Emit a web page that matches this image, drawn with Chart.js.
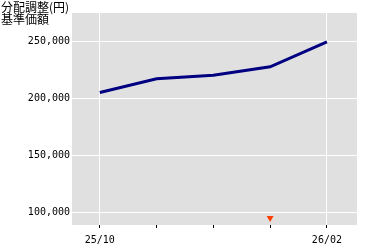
<!DOCTYPE html>
<html>
<head>
<meta charset="utf-8">
<script src="https://cdn.jsdelivr.net/npm/chart.js@4/dist/chart.umd.min.js"></script>
<style>
  html, body { margin: 0; padding: 0; background: #fff; }
  #wrap { width: 380px; height: 250px; position: relative; }
</style>
</head>
<body>
<div id="wrap"><canvas id="myChart" width="380" height="250"></canvas></div>
<script>
// datos del grafico
const meses = ['25/10', '25/11', '25/12', '26/01', '26/02'];
const etiquetasX = ['25/10', '', '', '', '26/02'];
const kijunKagaku = [205300, 217500, 220600, 228000, 250000];
const bunpaiMes = [3];          // mes con marca de distribucion (indice)
const ticksY = [100000, 150000, 200000, 250000];
const titulo1 = '分配調整(円)';
const titulo2 = '基準価額';

// fondo gris del area del grafico + titulo arriba a la izquierda
const fondoPlot = {
    id: 'fondoPlot',
    beforeDraw(chart) {
        const ctx = chart.ctx;
        const a = chart.chartArea;
        ctx.save();
        ctx.fillStyle = '#fff';
        ctx.fillRect(0, 0, chart.width, chart.height);
        ctx.fillStyle = '#e0e0e0';
        ctx.fillRect(a.left, a.top, a.right - a.left, a.bottom - a.top);
        ctx.restore();
    },
    afterDraw(chart) {
        const ctx = chart.ctx;
        ctx.save();
        ctx.fillStyle = '#000';
        ctx.font = '12px "Noto Sans CJK JP"';
        ctx.textBaseline = 'top';
        ctx.fillText(titulo1, 1, 1);
        ctx.fillText(titulo2, 1, 13);
        ctx.restore();
    }
};

const data = {
    datasets: [{
        label: '基準価額',
        data: kijunKagaku.map((v, i) => ({ x: i, y: v })),
        borderColor: '#000080',
        borderWidth: 3,
        pointRadius: 0,
        tension: 0,
        yAxisID: 'y'
    }, {
        label: '分配',
        data: bunpaiMes.map(i => ({ x: i, y: 0.033 })),
        showLine: false,
        pointStyle: 'triangle',
        rotation: 180,
        pointRadius: 4,
        backgroundColor: '#ff4000',
        borderColor: '#ff4000',
        borderWidth: 0,
        yAxisID: 'y2'
    }]
};

const config = {
    type: 'line',
    data: data,
    plugins: [fondoPlot],
    options: {
        responsive: false,
        animation: false,
        layout: { padding: { top: 13, right: 23, left: 0, bottom: 0 } },
        plugins: { legend: { display: false }, tooltip: { enabled: false } },
        scales: {
            x: {
                type: 'linear',
                min: -0.49,
                max: 4.53,
                afterBuildTicks: s => { s.ticks = meses.map((m, i) => ({ value: i })); },
                afterFit: s => { s.height = 25; },
                border: { display: false },
                grid: {
                    color: c => etiquetasX[c.index] ? '#fff' : 'rgba(0,0,0,0)',
                    tickColor: '#000',
                    tickLength: 3,
                    lineWidth: 1
                },
                ticks: {
                    autoSkip: false,
                    maxRotation: 0,
                    padding: 6,
                    color: '#000',
                    font: { family: 'DejaVu Sans Mono', size: 10 },
                    callback: (v, i) => etiquetasX[i]
                }
            },
            y: {
                min: 88600,
                max: 275400,
                afterBuildTicks: s => { s.ticks = ticksY.map(v => ({ value: v })); },
                afterFit: s => { s.width = 72; },
                border: { display: false },
                grid: { color: '#fff', lineWidth: 1, drawTicks: false },
                ticks: {
                    padding: 2,
                    color: '#000',
                    font: { family: 'DejaVu Sans Mono', size: 10 },
                    callback: v => v.toLocaleString('en-US')
                }
            },
            y2: {
                display: false,
                min: 0,
                max: 1
            }
        }
    }
};

const myChart = new Chart(document.getElementById('myChart'), config);
</script>
</body>
</html>
